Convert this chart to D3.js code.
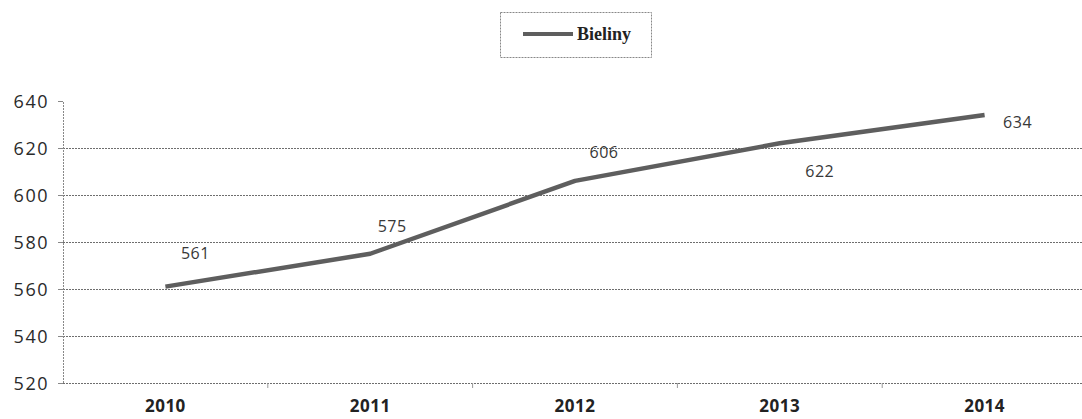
<!DOCTYPE html>
<html><head><meta charset="utf-8">
<script src="https://cdn.jsdelivr.net/npm/d3@7"></script>
<style>body{margin:0;background:#fff;}svg{display:block;}</style>
</head><body>
<svg id="c" width="1082" height="419"></svg>
<script>
const categories = ["2010","2011","2012","2013","2014"];
const values = [561, 575, 606, 622, 634];
const yTicks = [520, 540, 560, 580, 600, 620, 640];
const seriesName = "Bieliny";
// label offsets relative to point (dx, dy)
const labelPos = [[30,-33],[22,-27],[29,-29],[40,28],[33,7]];

const svg = d3.select("#c");
const mLeft = 63, mRight = 1087, mTop = 101, mBottom = 383;
const x = d3.scaleBand().domain(categories).range([mLeft, mRight]);
const y = d3.scaleLinear().domain([520, 640]).range([mBottom, mTop]);
const cx = d => x(d) + x.bandwidth()/2;

// gridlines
svg.append("g").selectAll("line").data(yTicks.filter(t => t < 640)).join("line")
  .attr("x1", mLeft).attr("x2", 1082)
  .attr("y1", d => y(d) + 0.5).attr("y2", d => y(d) + 0.5)
  .attr("stroke", "#6e6e6e").attr("stroke-width", 1).attr("stroke-dasharray", "2,1");

// y axis
const ya = d3.axisLeft(y).tickValues(yTicks).tickSize(5).tickPadding(9);
const yg = svg.append("g").attr("transform", `translate(${mLeft},0)`).call(ya);
yg.select(".domain").attr("stroke", "#888").attr("stroke-dasharray", "2,1");
yg.selectAll(".tick line").attr("stroke", "#888");
yg.selectAll("text").attr("font-family", "'Open Sans', sans-serif").attr("font-size", 18)
  .attr("letter-spacing", 1.5).attr("fill", "#2a2a2a").attr("dy", "0.35em");

// x axis
const xa = d3.axisBottom(x).tickSize(0).tickPadding(0);
const xg = svg.append("g").attr("transform", `translate(0,${mBottom})`).call(xa);
xg.select(".domain").remove();
xg.selectAll("text").attr("y", 23).attr("dy", "0.35em")
  .attr("font-family", "'Open Sans', sans-serif").attr("font-size", 17)
  .attr("font-weight", "bold").attr("letter-spacing", 0.5).attr("fill", "#222");
// x ticks between categories
svg.append("g").selectAll("line").data(categories.slice(1)).join("line")
  .attr("x1", d => x(d)).attr("x2", d => x(d))
  .attr("y1", mBottom).attr("y2", mBottom + 5)
  .attr("stroke", "#999");

// line
const line = d3.line().x((d,i) => cx(categories[i])).y(d => y(d));
svg.append("path").datum(values).attr("d", line)
  .attr("fill", "none").attr("stroke", "#5e5e5e").attr("stroke-width", 4.5)
  .attr("stroke-linejoin", "round");

// data labels
svg.append("g").selectAll("text").data(values).join("text")
  .attr("x", (d,i) => cx(categories[i]) + labelPos[i][0])
  .attr("y", (d,i) => y(d) + labelPos[i][1])
  .attr("dy", "0.35em").attr("text-anchor", "middle")
  .attr("font-family", "'Open Sans', sans-serif").attr("font-size", 16)
  .attr("letter-spacing", 0.5).attr("fill", "#383838")
  .text(d => d);

// legend
const lg = svg.append("g");
lg.append("rect").attr("x", 500.5).attr("y", 12.5).attr("width", 151).attr("height", 45)
  .attr("fill", "none").attr("stroke", "#888").attr("stroke-dasharray", "2,1");
lg.append("line").attr("x1", 523).attr("x2", 573).attr("y1", 34).attr("y2", 34)
  .attr("stroke", "#5e5e5e").attr("stroke-width", 4);
lg.append("text").attr("x", 577).attr("y", 34).attr("dy", "0.35em")
  .attr("font-family", "'Liberation Serif', serif").attr("font-weight", "bold")
  .attr("font-size", 18).attr("fill", "#222").text(seriesName);
</script>
</body></html>
